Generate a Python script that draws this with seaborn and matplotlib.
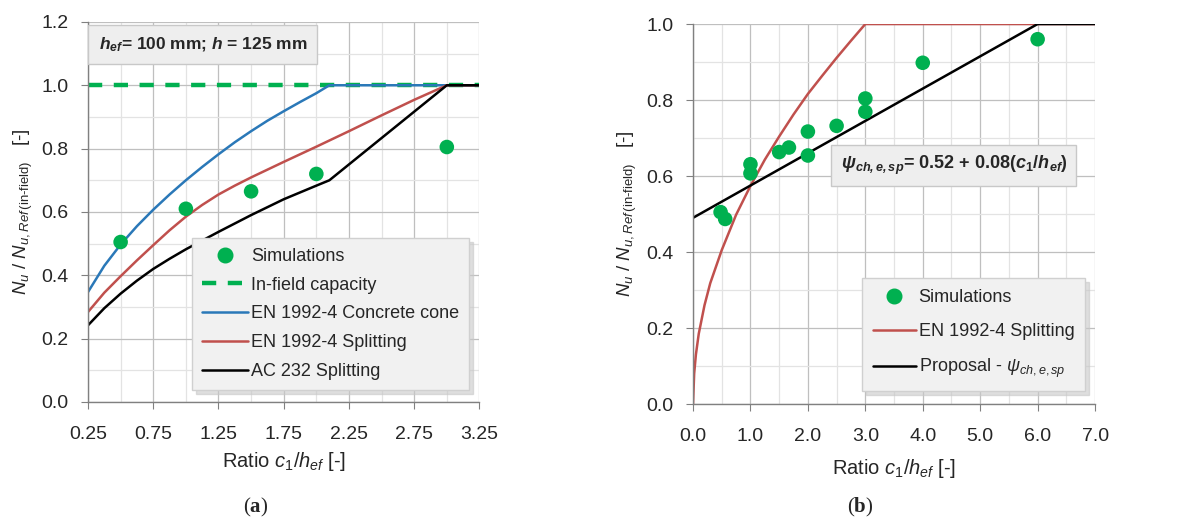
import numpy as np
import pandas as pd
import matplotlib
matplotlib.use("Agg")
import matplotlib.pyplot as plt
from matplotlib.ticker import MultipleLocator, FormatStrFormatter
from matplotlib.lines import Line2D
from matplotlib.offsetbox import TextArea, HPacker, AnchoredOffsetbox
import seaborn as sns

#%% data
# (a) h_ef = 100 mm, h = 125 mm
a_sim_x = [0.5, 1.0, 1.5, 2.0, 3.0]
a_sim_y = [0.505, 0.61, 0.665, 0.72, 0.805]

a_cone_x = [0.25, 0.375, 0.5, 0.625, 0.75, 0.875, 1.0, 1.125, 1.25, 1.375, 1.5, 1.625, 1.75, 1.875, 2.0, 2.1, 3.25]
a_cone_y = [0.347, 0.43, 0.497, 0.555, 0.607, 0.655, 0.70, 0.742, 0.782, 0.82, 0.855, 0.888, 0.918, 0.947, 0.975, 1.0, 1.0]

a_split_x = [0.25, 0.375, 0.5, 0.625, 0.75, 0.875, 1.0, 1.125, 1.25, 1.375, 1.5, 1.75, 2.0, 2.25, 2.5, 2.75, 3.0, 3.25]
a_split_y = [0.284, 0.345, 0.397, 0.447, 0.495, 0.542, 0.585, 0.622, 0.655, 0.683, 0.709, 0.758, 0.806, 0.855, 0.905, 0.954, 1.0, 1.0]

a_ac232_x = [0.25, 0.375, 0.5, 0.625, 0.75, 0.875, 1.0, 1.25, 1.5, 1.75, 2.0, 2.1, 3.0, 3.25]
a_ac232_y = [0.242, 0.296, 0.342, 0.383, 0.42, 0.452, 0.482, 0.537, 0.59, 0.64, 0.683, 0.70, 1.0, 1.0]

a_infield_x = [0.25, 3.25]
a_infield_y = [1.0, 1.0]

# (b)
b_sim_x = [0.48, 0.56, 1.0, 1.0, 1.5, 1.67, 2.0, 2.0, 2.5, 3.0, 3.0, 4.0, 6.0]
b_sim_y = [0.505, 0.487, 0.631, 0.607, 0.663, 0.675, 0.717, 0.654, 0.732, 0.804, 0.769, 0.898, 0.96]

b_split_x = [0.0, 0.02, 0.05, 0.1, 0.2, 0.3, 0.5, 0.75, 1.0, 1.25, 1.5, 1.75, 2.0, 2.25, 2.5, 2.75, 3.0, 7.0]
b_split_y = [0.0, 0.08, 0.13, 0.185, 0.26, 0.318, 0.405, 0.498, 0.574, 0.643, 0.704, 0.762, 0.816, 0.864, 0.911, 0.956, 1.0, 1.0]

b_prop_x = [0.0, 6.0, 7.0]
b_prop_y = [0.49, 1.0, 1.0]

#%% style
sns.set_style("white")
font = 'Liberation Sans'
plt.rcParams['font.family'] = [font, 'DejaVu Sans']
plt.rcParams['mathtext.fontset'] = 'custom'
plt.rcParams['mathtext.rm'] = font
plt.rcParams['mathtext.it'] = font + ':italic'
plt.rcParams['mathtext.bf'] = font + ':bold'
plt.rcParams['mathtext.bfit'] = font + ':italic:bold'

green = '#00B050'
blue = '#2A78B8'
red = '#C0504D'
black = '#000000'

fig = plt.figure(figsize=(11.78, 5.22), dpi=100)
ax1 = fig.add_axes([0.0747, 0.230, 0.3323, 0.728])
ax2 = fig.add_axes([0.5883, 0.226, 0.3413, 0.728])

ylab = r"$N_u$ / $N_{u,Ref\,\mathrm{(in‐field)}}$   [-]"
xlab = r"Ratio $c_1$/$h_{ef}$ [-]"


def style_axes(ax, xmaj, xmin, ymaj, ymin):
    ax.xaxis.set_major_locator(MultipleLocator(xmaj))
    ax.xaxis.set_minor_locator(MultipleLocator(xmin))
    ax.yaxis.set_major_locator(MultipleLocator(ymaj))
    ax.yaxis.set_minor_locator(MultipleLocator(ymin))
    ax.grid(which='major', color='#BFBFBF', lw=0.9)
    ax.grid(which='minor', color='#E3E3E3', lw=0.9)
    ax.set_axisbelow(True)
    for s in ['top', 'right']:
        ax.spines[s].set_visible(False)
    for s in ['left', 'bottom']:
        ax.spines[s].set_color('#808080')
        ax.spines[s].set_linewidth(1.0)
    ax.tick_params(which='major', direction='out', length=5, color='#808080',
                   labelsize=14, left=True, bottom=True)
    ax.tick_params(axis='x', which='major', pad=12)
    ax.tick_params(axis='y', which='major', pad=9)
    ax.tick_params(which='minor', length=0)


#%% panel (a)
sns.lineplot(x=a_infield_x, y=a_infield_y, ax=ax1, color=green, lw=3.2,
             linestyle=(0, (3.2, 2.6)), estimator=None, sort=False)
sns.lineplot(x=a_cone_x, y=a_cone_y, ax=ax1, color=blue, lw=1.8, estimator=None, sort=False)
sns.lineplot(x=a_split_x, y=a_split_y, ax=ax1, color=red, lw=1.8, estimator=None, sort=False)
sns.lineplot(x=a_ac232_x, y=a_ac232_y, ax=ax1, color=black, lw=1.8, estimator=None, sort=False)
sns.scatterplot(x=a_sim_x, y=a_sim_y, ax=ax1, color=green, s=110, edgecolor='none', zorder=5)
ax1.set_xlim(0.25, 3.25)
ax1.set_ylim(0, 1.2)
style_axes(ax1, 0.5, 0.25, 0.2, 0.1)
ax1.set_xticks(np.arange(0.25, 3.26, 0.5))
ax1.xaxis.set_major_formatter(FormatStrFormatter('%.2f'))
ax1.yaxis.set_major_formatter(FormatStrFormatter('%.1f'))
ax1.set_xlabel(xlab, fontsize=14.5)
ax1.set_ylabel(ylab, fontsize=13.5)
ax1.yaxis.set_label_coords(-0.135, 0.5)
ax1.xaxis.set_label_coords(0.5, -0.126)

ax1.text(0.027, 0.941, r"$\mathbfit{h_{ef}}$= 100 mm; $\mathbfit{h}$ = 125 mm",
         transform=ax1.transAxes, fontsize=12.5, fontweight='bold', va='center', ha='left',
         bbox=dict(boxstyle='square,pad=0.6', facecolor='#EEEEEE', edgecolor='#C8C8C8'),
         zorder=6)

h_a = [Line2D([], [], color=green, marker='o', ls='none', markersize=10.5),
       Line2D([], [], color=green, lw=3.2, ls=(0, (3.2, 2.6))),
       Line2D([], [], color=blue, lw=1.8),
       Line2D([], [], color=red, lw=1.8),
       Line2D([], [], color=black, lw=1.8)]
l_a = ["Simulations", "In-field capacity", "EN 1992-4 Concrete cone",
       "EN 1992-4 Splitting", "AC 232 Splitting"]
leg = ax1.legend(h_a, l_a, loc='lower right', bbox_to_anchor=(0.997, 0.008), fontsize=13,
                 handlelength=2.6, handletextpad=0.15, labelspacing=0.65, borderpad=0.55,
                 fancybox=False, framealpha=1, facecolor='#F1F1F1', edgecolor='#D0D0D0',
                 shadow={'color': '#C8C8C8', 'alpha': 0.6, 'ox': 3, 'oy': -3})
leg.set_zorder(7)

#%% panel (b)
sns.lineplot(x=b_split_x, y=b_split_y, ax=ax2, color=red, lw=1.8, estimator=None, sort=False)
sns.lineplot(x=b_prop_x, y=b_prop_y, ax=ax2, color=black, lw=1.8, estimator=None, sort=False)
sns.scatterplot(x=b_sim_x, y=b_sim_y, ax=ax2, color=green, s=110, edgecolor='none', zorder=5)
ax2.set_xlim(0, 7)
ax2.set_ylim(0, 1.0)
style_axes(ax2, 1.0, 0.5, 0.2, 0.1)
ax2.xaxis.set_major_formatter(FormatStrFormatter('%.1f'))
ax2.yaxis.set_major_formatter(FormatStrFormatter('%.1f'))
ax2.set_xlabel(xlab, fontsize=14.5)
ax2.set_ylabel(ylab, fontsize=13.5)
ax2.yaxis.set_label_coords(-0.135, 0.5)
ax2.xaxis.set_label_coords(0.5, -0.14)

ax2.text(0.649, 0.628, r"$\mathbfit{\psi_{ch,e,sp}}$= 0.52 + 0.08($\mathbfit{c}_{\mathbf{1}}$/$\mathbfit{h_{ef}}$)",
         transform=ax2.transAxes, fontsize=13, fontweight='bold', va='center', ha='center',
         bbox=dict(boxstyle='square,pad=0.5', facecolor='#EEEEEE', edgecolor='#C8C8C8'),
         zorder=6)

h_b = [Line2D([], [], color=green, marker='o', ls='none', markersize=10.5),
       Line2D([], [], color=red, lw=1.8),
       Line2D([], [], color=black, lw=1.8)]
l_b = ["Simulations", "EN 1992-4 Splitting", r"Proposal - $\psi_{ch,e,sp}$"]
leg2 = ax2.legend(h_b, l_b, loc='lower right', bbox_to_anchor=(0.998, 0.01), fontsize=13,
                  handlelength=2.4, handletextpad=0.15, labelspacing=0.95, borderpad=0.6,
                  fancybox=False, framealpha=1, facecolor='#F1F1F1', edgecolor='#D0D0D0',
                  shadow={'color': '#C8C8C8', 'alpha': 0.6, 'ox': 3, 'oy': -3})
leg2.set_zorder(7)


#%% captions (a) and (b)
def caption(letter, x, y):
    parts = [TextArea("(", textprops=dict(family='Liberation Serif', fontsize=15)),
             TextArea(letter, textprops=dict(family='Liberation Serif', fontsize=15, fontweight='bold')),
             TextArea(")", textprops=dict(family='Liberation Serif', fontsize=15))]
    box = HPacker(children=parts, align='baseline', pad=0, sep=0)
    anchored = AnchoredOffsetbox(loc='center', child=box, frameon=False,
                                 bbox_to_anchor=(x, y), bbox_transform=fig.transFigure,
                                 borderpad=0, pad=0)
    fig.add_artist(anchored)


caption("a", 255 / 1178, 1 - 507 / 522)
caption("b", 860 / 1178, 1 - 507 / 522)

fig.savefig("out.png", dpi=100)
